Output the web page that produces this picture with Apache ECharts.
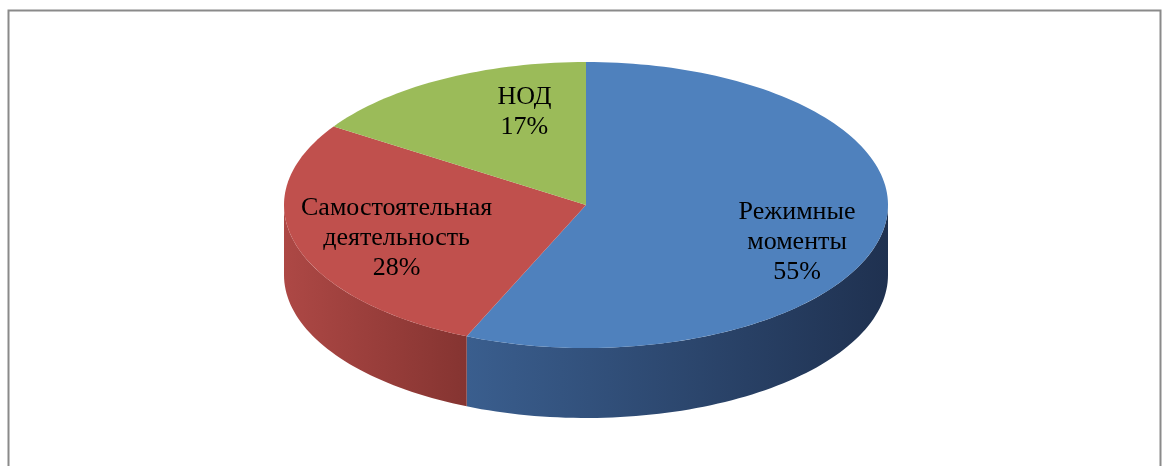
<!DOCTYPE html>
<html>
<head>
<meta charset="utf-8">
<style>
  html, body { margin: 0; padding: 0; background: #fff; }
  #pie3d { width: 1168px; height: 466px; }
</style>
</head>
<body>
<div id="pie3d"></div>

<script src="https://cdn.jsdelivr.net/npm/echarts@6/dist/echarts.min.js"></script>
<script>
    // данные диаграммы
    var names = ['Режимные\nмоменты', 'Самостоятельная\nдеятельность', 'НОД'];
    var values = [55, 28, 17];
    var topColors = ['#4f81bd', '#c0504d', '#9bbb59'];
    var sideColors = [['#3a5e8e', '#1f3150'], ['#ad4845', '#853431']];
    // небольшой сдвиг подписей, как в исходной диаграмме
    var labelNudge = [[2, 22], [10, 0], [20, 0]];

    var myChart = echarts.init(document.getElementById('pie3d'));

    var total = values.reduce(function (a, b) { return a + b; }, 0);
    var starts = [];
    var acc = 0;
    values.forEach(function (v) { starts.push(acc); acc += v; });

    // геометрия "объёмного" круга
    var cx = 586, cy = 205, rx = 302, ry = 143, depth = 70, persp = 0.34;

    // угол (по часовой от 12 часов) -> угол на эллипсе с учётом перспективы
    function mapAngle(deg) {
        var t = deg * Math.PI / 180;
        var x = Math.sin(t), y = -Math.cos(t);
        var s = 1 + persp * y;
        var phi = Math.atan2(x * s, Math.cos(t)) * 180 / Math.PI;
        while (phi < deg - 180) phi += 360;
        while (phi > deg + 180) phi -= 360;
        return phi;
    }
    function pt(phiDeg, k, dy) {
        var p = phiDeg * Math.PI / 180;
        return [cx + k * rx * Math.sin(p), cy - k * ry * Math.cos(p) + (dy || 0)];
    }
    function arc(a1, a2, dy) {
        var pts = [];
        var n = Math.max(2, Math.ceil(Math.abs(a2 - a1) / 1.5));
        for (var i = 0; i <= n; i++) {
            pts.push(pt(a1 + (a2 - a1) * i / n, 1, dy));
        }
        return pts;
    }

    function renderItem(params, api) {
        var i = params.dataIndex;
        var a1 = mapAngle(starts[i] / total * 360);
        var a2 = mapAngle((starts[i] + values[i]) / total * 360);
        var children = [];

        // боковая стенка (видна только передняя половина: 90..270)
        var s1 = Math.max(a1, 90), s2 = Math.min(a2, 270);
        if (s2 > s1) {
            var top = arc(s1, s2, 0);
            var bottom = arc(s2, s1, depth);
            var sc = sideColors[i] || ['#666', '#333'];
            children.push({
                type: 'polygon',
                z2: 1,
                shape: { points: top.concat(bottom) },
                style: {
                    fill: new echarts.graphic.LinearGradient(0, 0, 1, 0, [
                        { offset: 0, color: sc[0] },
                        { offset: 1, color: sc[1] }
                    ], false)
                }
            });
        }

        // верхняя грань сектора
        children.push({
            type: 'polygon',
            z2: 5,
            shape: { points: [[cx, cy]].concat(arc(a1, a2, 0)) },
            style: { fill: topColors[i] }
        });

        // подпись
        var mid = mapAngle((starts[i] + values[i] / 2) / total * 360);
        var lp = pt(mid, 0.7, 0);
        var nd = labelNudge[i] || [0, 0];
        children.push({
            type: 'text',
            z2: 10,
            x: lp[0] + nd[0],
            y: lp[1] + nd[1],
            style: {
                text: names[i] + '\n' + Math.round(values[i] / total * 100) + '%',
                fill: '#000',
                font: '26px "Liberation Serif", "Times New Roman", serif',
                lineHeight: 30,
                align: 'center',
                verticalAlign: 'middle'
            }
        });

        return { type: 'group', children: children };
    }

    var option = {
        animation: false,
        graphic: [{
            type: 'rect',
            left: 6,
            top: 8,
            shape: { width: 1152, height: 480 },
            style: { fill: null, stroke: '#8a8a8a', lineWidth: 2 }
        }],
        series: [{
            type: 'custom',
            coordinateSystem: 'none',
            renderItem: renderItem,
            data: values
        }]
    };
    myChart.setOption(option);
</script>
</body>
</html>
